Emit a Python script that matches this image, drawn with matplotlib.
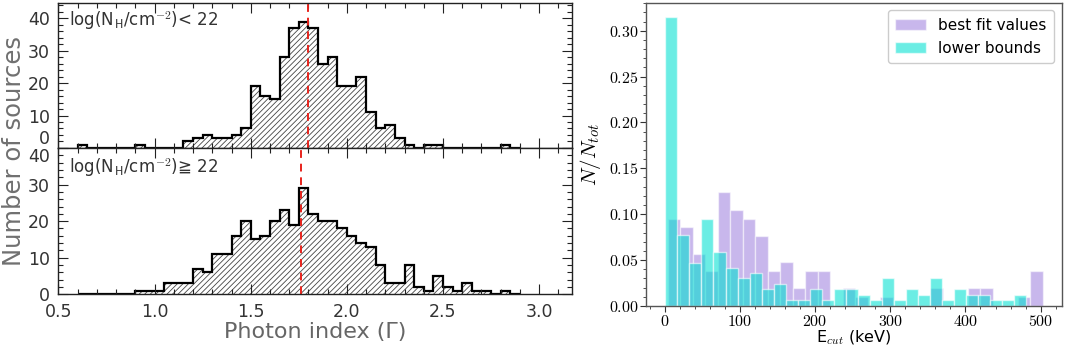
import numpy as np
import matplotlib
matplotlib.use('Agg')
import matplotlib.pyplot as plt
from matplotlib.ticker import MultipleLocator, FuncFormatter

plt.rcParams['mathtext.fontset'] = 'cm'
plt.rcParams['hatch.linewidth'] = 0.6

# -------------------------------------------------------------------
# left: photon index histograms (bins of 0.05 starting at 0.60)
gamma_start = 0.60
gamma_width = 0.05
counts_unobscured = [1, 0, 0, 0, 0, 0, 1, 0, 0, 0, 0, 2, 3, 4, 3, 3, 4, 6, 19, 16,
                     15, 28, 37, 39, 37, 26, 28, 19, 19, 22, 11, 6, 7, 3, 1, 0, 1, 1, 0, 0,
                     0, 0, 0, 0, 1, 0]
counts_obscured = [0, 0, 0, 0, 0, 0, 1, 1, 1, 3, 3, 3, 7, 6, 11, 11, 16, 20, 15, 16,
                   20, 23, 19, 29, 22, 20, 20, 18, 16, 14, 13, 8, 3, 3, 8, 2, 1, 5, 2, 1,
                   3, 1, 1, 0, 1, 0]
median_unobscured = 1.80
median_obscured = 1.76

# right: E_cut histograms (30 bins each, normalised)
ecut_best_range = (4.0, 503.0)
ecut_best = [0.095, 0.086, 0.057, 0.038, 0.124, 0.105, 0.095, 0.076, 0.038, 0.048,
             0.019, 0.038, 0.038, 0.0, 0.019, 0.0095, 0.0, 0.0095, 0.0, 0.0,
             0.0, 0.019, 0.0, 0.0, 0.019, 0.019, 0.0, 0.0, 0.0095, 0.038]
ecut_lower_range = (1.0, 481.0)
ecut_lower = [0.315, 0.077, 0.047, 0.095, 0.059, 0.041, 0.030, 0.036, 0.018, 0.024,
              0.006, 0.006, 0.018, 0.006, 0.018, 0.018, 0.012, 0.006, 0.030, 0.006,
              0.018, 0.012, 0.030, 0.006, 0.018, 0.012, 0.012, 0.006, 0.006, 0.012]

# ===================================================================


def gamma_panel(ax, counts, median, label, ytop, ypos):
    edges = gamma_start + gamma_width * np.arange(len(counts) + 1)
    ax.stairs(counts, edges, fill=True, facecolor='none', edgecolor='#444444',
              linewidth=0, hatch='//////')
    ax.stairs(counts, edges, color='black', linewidth=1.6)
    ax.axvline(median, color='#e8231c', linestyle=(0, (4, 3)), linewidth=1.4)
    ax.set_xlim(0.5, 3.17)
    ax.set_ylim(0, ytop)
    ax.xaxis.set_major_locator(MultipleLocator(0.5))
    ax.xaxis.set_minor_locator(MultipleLocator(0.1))
    ax.yaxis.set_major_locator(MultipleLocator(10))
    ax.yaxis.set_minor_locator(MultipleLocator(2))
    ax.tick_params(which='both', direction='in', top=True, right=True,
                   colors='#222222', labelcolor='#333333', labelsize=12.5)
    ax.tick_params(which='major', length=7, width=0.8, pad=6)
    ax.tick_params(which='minor', length=3.5, width=0.8)
    for sp in ax.spines.values():
        sp.set_linewidth(1.0)
        sp.set_color('#222222')
    ax.text(0.02, ypos, label, transform=ax.transAxes, ha='left', va='top',
            fontsize=12, color='#333333')


fig = plt.figure(figsize=(10.65, 3.48), dpi=100)

ax_top = fig.add_axes([0.0549, 0.575, 0.482, 0.417])
ax_bot = fig.add_axes([0.0549, 0.154, 0.482, 0.421], sharex=ax_top)

gamma_panel(ax_top, counts_unobscured, median_unobscured,
            r'log(N$_{\mathsf{H}}$/cm$^{-\mathsf{2}}$)< 22', 44.8, 0.955)
gamma_panel(ax_bot, counts_obscured, median_obscured,
            r'log(N$_{\mathsf{H}}$/cm$^{-\mathsf{2}}$)≧ 22', 40, 0.94)
ax_top.tick_params(labelbottom=False)

ax_bot.set_xlabel('Photon index (Γ)', fontsize=16, color='#666666', labelpad=1)
fig.text(0.013, 0.565, 'Number of sources', rotation=90, ha='center', va='center',
         fontsize=17.5, color='#707070')

# -------------------------------------------------------------------
ax = fig.add_axes([0.607, 0.121, 0.390, 0.871])

best_edges = np.linspace(ecut_best_range[0], ecut_best_range[1], len(ecut_best) + 1)
lower_edges = np.linspace(ecut_lower_range[0], ecut_lower_range[1], len(ecut_lower) + 1)

ax.bar(best_edges[:-1], ecut_best, width=np.diff(best_edges), align='edge',
       color='mediumpurple', alpha=0.5, edgecolor='white', linewidth=1.0,
       label='best fit values')
ax.bar(lower_edges[:-1], ecut_lower, width=np.diff(lower_edges), align='edge',
       color='#00e0d2', alpha=0.58, edgecolor='white', linewidth=1.0,
       label='lower bounds')

ax.set_ylim(0, 0.3305)
ax.xaxis.set_major_locator(MultipleLocator(100))
ax.xaxis.set_minor_locator(MultipleLocator(20))
ax.yaxis.set_major_locator(MultipleLocator(0.05))
ax.yaxis.set_minor_locator(MultipleLocator(0.01))
ax.xaxis.set_major_formatter(FuncFormatter(lambda v, p: r'$%d$' % v))
ax.yaxis.set_major_formatter(FuncFormatter(lambda v, p: r'$%.2f$' % v))
ax.tick_params(which='both', direction='out', labelsize=11.5, color='#333333')
ax.tick_params(which='major', length=4, width=0.8, pad=1.5)
ax.tick_params(which='minor', length=2, width=0.6)
for sp in ax.spines.values():
    sp.set_color('#555555')
    sp.set_linewidth(1.0)

ax.set_ylabel(r'$N/N_{tot}$', fontsize=15, labelpad=4)
ax.set_xlabel(r'E$_{cut}$ (keV)', fontsize=11.5, labelpad=0)
ax.legend(loc='upper right', fontsize=11, fancybox=True, framealpha=1.0,
          edgecolor='#cccccc', handlelength=2.0, borderpad=0.5)

# stack the "0" and "40" labels at the panel boundary like the original
fig.canvas.draw()
for t in ax_top.yaxis.get_major_ticks():
    if abs(t.get_loc()) < 1e-6:
        t.label1.set_va('bottom')
for t in ax_bot.yaxis.get_major_ticks():
    if abs(t.get_loc() - 40) < 1e-6:
        t.label1.set_va('top')

fig.savefig('out.png', dpi=100)
